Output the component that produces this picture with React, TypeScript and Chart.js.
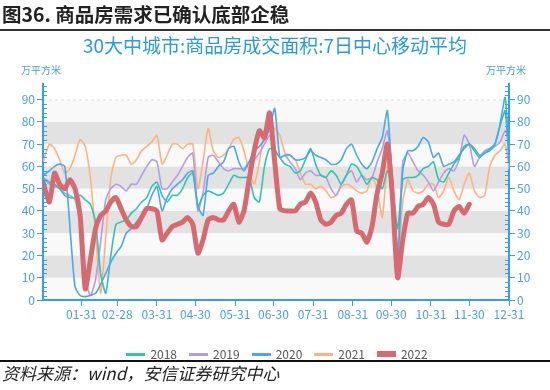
import React, { useEffect, useRef } from "react";
import { Chart, registerables } from "chart.js";

Chart.register(...registerables);

// Day-of-year sample positions
const DAYS = [
  1, 6, 10, 14, 18, 22, 26, 30, 34, 38, 42, 46, 50, 54, 58, 62, 66, 70, 74, 78, 82, 86, 90, 94,
  98, 102, 106, 110, 114, 118, 122, 126, 130, 134, 138, 142, 146, 150, 154, 158, 162, 166, 170, 174, 178, 182, 186,
  190, 194, 198, 202, 206, 210, 214, 218, 222, 226, 230, 234, 238, 242, 246, 250, 254, 258, 262, 266, 270, 274,
  278, 282, 286, 290, 294, 298, 302, 306, 310, 314, 318, 322, 326, 330, 334, 338, 342, 346, 350, 354, 358, 362, 365,
];

const Y2018 = [
  55, 53, 52, 50, 47, 46, 46, 47, 45, 43, 35, 12, 3, 20, 34, 35, 36, 39, 41, 44, 46, 51, 53, 47,
  44, 47, 47, 50, 55, 57, 42, 47, 49, 48, 47, 48, 52, 56, 55, 55, 55, 46, 44, 60, 68, 67, 64,
  61, 60, 57, 58, 63, 68, 61, 56, 55, 58, 56, 52, 56, 61, 60, 56, 52, 55, 54, 50, 58, 50,
  32, 54, 55, 55, 56, 59, 60, 62, 54, 53, 57, 61, 64, 69, 70, 68, 65, 66, 67, 70, 79, 91, 66,
];

const Y2019 = [
  55, 52, 51, 50, 48, 47, 45, 35, 10, 2, 9, 26, 45, 50, 52, 51, 49, 52, 52, 56, 60, 63, 62, 50,
  50, 53, 56, 60, 64, 66, 40, 48, 64, 65, 62, 59, 58, 59, 59, 59, 62, 63, 66, 70, 74, 68, 64,
  65, 62, 59, 54, 57, 58, 56, 56, 55, 50, 47, 52, 56, 58, 53, 56, 54, 55, 62, 68, 76, 55,
  22, 62, 66, 62, 58, 56, 53, 49, 53, 57, 59, 58, 63, 74, 70, 60, 64, 67, 68, 69, 71, 76, 72,
];

const Y2020 = [
  56, 58, 60, 61, 60, 33, 6, 2, 1.5, 2, 3, 7, 12, 17, 21, 24, 30, 32, 35, 38, 41, 47, 51, 40,
  46, 50, 52, 54, 57, 58, 42, 38, 56, 57, 60, 62, 68, 69, 62, 58, 62, 67, 69, 72, 77, 86, 64,
  65, 65, 63, 63, 64, 67, 65, 64, 63, 61, 61, 63, 68, 70, 65, 61, 59, 62, 68, 73, 85, 52,
  18, 58, 67, 67, 69, 73, 71, 64, 66, 60, 61, 62, 65, 68, 70, 67, 64, 66, 68, 70, 78, 85, 62,
];

const Y2021 = [
  62, 70, 68, 63, 57, 59, 65, 72, 69, 55, 30, 3, 28, 55, 64, 65, 65, 61, 63, 67, 69, 71, 74, 61,
  65, 70, 70, 68, 70, 70, 50, 62, 77, 67, 64, 65, 68, 72, 73, 67, 58, 52, 62, 76, 79, 77, 74,
  66, 65, 63, 57, 52, 52, 50, 51, 49, 46, 47, 51, 52, 51, 49, 48, 49, 55, 50, 37, 60, 55,
  15, 44, 54, 49, 48, 49, 52, 52, 46, 49, 55, 49, 45, 52, 57, 49, 46, 47, 60, 65, 67, 70, 59,
];

const Y2022 = [
  53, 44, 57, 52, 50, 54, 50, 38, 5, 18, 32, 38, 40, 44, 46, 41, 36, 33, 33, 37, 41, 41, 40, 27,
  30, 33, 34, 35, 37, 34, 21, 27, 36, 37, 36, 36, 40, 43, 35, 40, 54, 67, 76, 73, 84, 62, 41,
  40, 40, 40, 43, 44, 48, 44, 36, 34, 35, 38, 39, 43, 45, 31, 30, 26, 33, 48, 57, 70, 46,
  10, 27, 39, 39, 42, 43, 46, 43, 35, 34, 34, 40, 42, 39, 43, null, null, null, null, null, null, null, null,
];

const SERIES_NAMES = ["2018", "2019", "2020", "2021", "2022"];
const SERIES_VALUES = [Y2018, Y2019, Y2020, Y2021, Y2022];
const SERIES_COLORS = ["#2fc4b4", "#b49de4", "#4ba8ea", "#ffb27e", "#d66a70"];

const MONTH_END_DAYS = [31, 59, 90, 120, 151, 181, 212, 243, 273, 304, 334, 365];
const MONTH_END_LABELS = ["01-31", "02-28", "03-31", "04-30", "05-31", "06-30", "07-31", "08-31", "09-30", "10-31", "11-30", "12-31"];
const Y_TICKS = [0, 10, 20, 30, 40, 50, 60, 70, 80, 90];

const TITLE = "30大中城市:商品房成交面积:7日中心移动平均";
const HEADER = "图36. 商品房需求已确认底部企稳";
const FOOTER = "资料来源：wind，安信证券研究中心";
const UNIT = "万平方米";

const AXIS_BLUE = "#3b9fdc";
const LABEL_BLUE = "#4aa2dd";
const FONT = "'Noto Sans CJK SC', 'Noto Sans', sans-serif";

const bandsPlugin = {
  id: "bands",
  beforeDraw(chart: any) {
    const { ctx, chartArea } = chart;
    const y = chart.scales.y;
    ctx.save();
    for (let k = 0; k < 9; k++) {
      const top = y.getPixelForValue((k + 1) * 10);
      const bot = y.getPixelForValue(k * 10);
      ctx.fillStyle = k % 2 === 1 ? "#e2e2e2" : "#f9f9f9";
      ctx.fillRect(chartArea.left, top, chartArea.right - chartArea.left, bot - top);
    }
    const t = y.getPixelForValue(90);
    ctx.strokeStyle = "#dddddd";
    ctx.lineWidth = 1;
    ctx.setLineDash([3, 3]);
    ctx.beginPath();
    ctx.moveTo(chartArea.left, t + 0.5);
    ctx.lineTo(chartArea.right, t + 0.5);
    ctx.stroke();
    ctx.restore();
  },
  afterDraw(chart: any) {
    const { ctx, chartArea } = chart;
    const y = chart.scales.y;
    ctx.save();
    ctx.strokeStyle = AXIS_BLUE;
    ctx.lineWidth = 1;
    for (let v = 2; v <= 96; v += 2) {
      if (v % 10 === 0) continue;
      const p = Math.round(y.getPixelForValue(v)) + 0.5;
      ctx.beginPath();
      ctx.moveTo(chartArea.left, p);
      ctx.lineTo(chartArea.left + 4, p);
      ctx.moveTo(chartArea.right - 4, p);
      ctx.lineTo(chartArea.right, p);
      ctx.stroke();
    }
    ctx.restore();
  },
};

export default function App() {
  const ref = useRef<HTMLCanvasElement | null>(null);

  useEffect(() => {
    if (!ref.current) return;
    const datasets = SERIES_NAMES.map((name, si) => ({
      label: name,
      data: DAYS.map((d, i) => ({ x: d, y: SERIES_VALUES[si][i] })),
      borderColor: SERIES_COLORS[si],
      backgroundColor: SERIES_COLORS[si],
      borderWidth: si === 4 ? 5 : 1.6,
      pointRadius: 0,
      tension: 0.2,
      fill: false,
      spanGaps: false,
      borderJoinStyle: "round" as const,
      borderCapStyle: "round" as const,
      order: [2, 3, 1, 4, 0][si],
    }));

    const yCommon = (position: "left" | "right", width: number) => ({
      type: "linear" as const,
      position,
      min: 0,
      max: 97,
      afterBuildTicks: (s: any) => {
        s.ticks = Y_TICKS.map((v) => ({ value: v }));
      },
      afterFit: (s: any) => {
        s.width = width;
      },
      grid: { drawOnChartArea: false, drawTicks: true, tickLength: 6, color: AXIS_BLUE, lineWidth: 1 },
      border: { display: true, color: AXIS_BLUE, width: 2 },
      ticks: { color: LABEL_BLUE, font: { family: FONT, size: 12 }, padding: 2 },
    });

    const chart = new Chart(ref.current, {
      type: "line",
      data: { datasets },
      options: {
        animation: false,
        responsive: false,
        devicePixelRatio: 1,
        events: [],
        layout: { padding: { top: 84, left: 0, right: 0, bottom: 0 } },
        plugins: { legend: { display: false }, title: { display: false }, tooltip: { enabled: false } },
        scales: {
          x: {
            type: "linear",
            min: 1,
            max: 365,
            afterBuildTicks: (s: any) => {
              s.ticks = MONTH_END_DAYS.map((v) => ({ value: v }));
            },
            afterFit: (s: any) => {
              s.height = 90;
            },
            grid: { drawOnChartArea: false, drawTicks: true, tickLength: 6, color: AXIS_BLUE, lineWidth: 1 },
            border: { display: true, color: AXIS_BLUE, width: 2 },
            ticks: {
              color: LABEL_BLUE,
              font: { family: FONT, size: 12 },
              padding: 1,
              autoSkip: false,
              maxRotation: 0,
              callback: (v: any) => {
                const i = MONTH_END_DAYS.indexOf(Number(v));
                return i >= 0 ? MONTH_END_LABELS[i] : "";
              },
            },
          },
          y: yCommon("left", 43),
          y2: yCommon("right", 41),
        },
      },
      plugins: [bandsPlugin],
    });
    return () => chart.destroy();
  }, []);

  const abs = (o: React.CSSProperties): React.CSSProperties => ({ position: "absolute", ...o });

  return (
    <div style={{ position: "fixed", left: 0, top: 0, width: 550, height: 390, background: "#fff", overflow: "hidden", fontFamily: FONT }}>
      <canvas ref={ref} width={550} height={390} style={abs({ left: 0, top: 0, width: 550, height: 390 })} />
      <div style={abs({ left: 2, top: 2, fontSize: 19.5, fontWeight: 700, lineHeight: "24px", color: "#222", whiteSpace: "nowrap" })}>{HEADER}</div>
      <div style={abs({ left: 0, top: 29, width: 550, height: 2, background: "#333" })} />
      <div style={abs({ left: 0, top: 32, width: 550, textAlign: "center", fontSize: 19, lineHeight: "26px", color: "#2a9ad8", whiteSpace: "nowrap" })}>{TITLE}</div>
      <div style={abs({ left: 21, top: 63, fontSize: 10, lineHeight: "14px", color: LABEL_BLUE, whiteSpace: "nowrap" })}>{UNIT}</div>
      <div style={abs({ left: 486, top: 63, fontSize: 10, lineHeight: "14px", color: LABEL_BLUE, whiteSpace: "nowrap" })}>{UNIT}</div>
      <div style={abs({ left: 2, top: 346, width: 550, height: 16, display: "flex", justifyContent: "center", alignItems: "center" })}>
        {SERIES_NAMES.map((n, i) => (
          <div key={n} style={{ display: "flex", alignItems: "center", marginLeft: i === 0 ? 0 : 12 }}>
            <span style={{ display: "inline-block", width: 19, height: i === 4 ? 6 : 3, background: SERIES_COLORS[i], marginRight: 5 }} />
            <span style={{ fontSize: 12, color: "#555", lineHeight: "16px" }}>{n}</span>
          </div>
        ))}
      </div>
      <div style={abs({ left: 0, top: 360, width: 550, height: 2, background: "#111" })} />
      <div style={abs({ left: 2, top: 363, fontSize: 17, fontStyle: "italic", lineHeight: "20px", color: "#222", whiteSpace: "nowrap" })}>{FOOTER}</div>
    </div>
  );
}
